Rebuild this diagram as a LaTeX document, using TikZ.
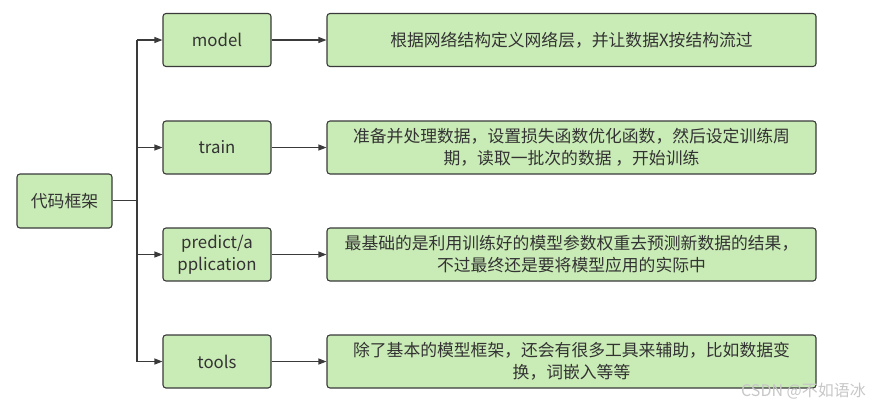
\documentclass[tikz,border=0pt]{standalone}
\usepackage{fontspec}
\setmainfont{Noto Sans CJK SC}
\usetikzlibrary{arrows.meta}
\definecolor{boxfill}{HTML}{C9EBB6}
\definecolor{boxline}{HTML}{3A3A3A}
\tikzset{
  gbox/.style={draw=boxline, line width=1.1pt, fill=boxfill, rounded corners=3pt, inner sep=0pt, align=center, font=\fontsize{16.8}{22}\selectfont, text=black!80},
  conn/.style={draw=boxline, line width=1.1pt},
  arr/.style={conn, -{Triangle[length=8pt,width=6pt]}}
}
\begin{document}
\begin{tikzpicture}[x=1pt,y=-1pt]
\useasboundingbox (0,0) rectangle (872,408);
\node[gbox, minimum width=95pt, minimum height=54pt] (root) at (64.5,201) {代码框架};
\foreach \n/\y/\t/\d in {
  model/40/model/根据网络结构定义网络层，并让数据X按结构流过,
  train/147.5/train/{准备并处理数据，设置损失函数优化函数，然后设定训练周\\期，读取一批次的数据 ，开始训练},
  pred/254.5/{predict/a\\pplication}/{最基础的是利用训练好的模型参数权重去预测新数据的结果，\\不过最终还是要将模型应用的实际中},
  tools/361.5/tools/{除了基本的模型框架，还会有很多工具来辅助，比如数据变\\换，词嵌入等等}} {
  \node[gbox, minimum width=108pt, minimum height=53pt] (\n) at (217,\y) {\t};
  \node[gbox, minimum width=489pt, minimum height=53pt] (\n d) at (571.5,\y) {\d};
  \draw[arr] (\n.east) -- (\n d.west);
}
\coordinate (top) at (137,40);
\coordinate (bot) at (137,361.5);
\coordinate (mid) at (137,200.5);
\draw[conn] (root.east |- mid) -- (mid);
\draw[conn] (top) -- (bot);
\foreach \n in {model,train,pred,tools} {
  \draw[arr] (top |- \n.west) -- (\n.west);
}
\node[font=\fontsize{16}{18}\selectfont, text=black!22, anchor=east, inner sep=0pt] (wm) at (866,391) {CSDN @不如语冰};
\end{tikzpicture}
\end{document}
